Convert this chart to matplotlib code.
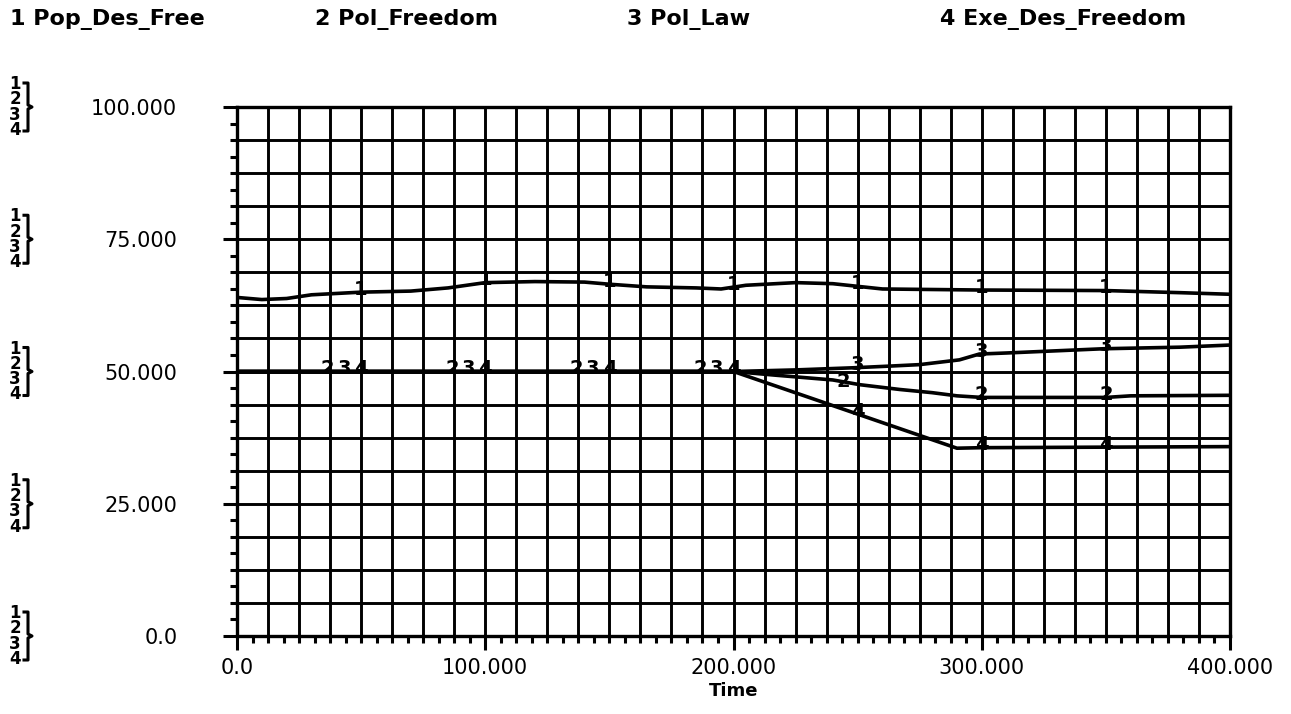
import numpy as np
import matplotlib
matplotlib.use("Agg")
import matplotlib.pyplot as plt
from matplotlib.lines import Line2D
from matplotlib.ticker import MultipleLocator
from matplotlib.transforms import offset_copy

# ---------------- data ----------------
series_names = ["Pop_Des_Free", "Pol_Freedom", "Pol_Law", "Exe_Des_Freedom"]

t1 = [0, 10, 20, 30, 50, 70, 85, 100, 120, 140, 150, 165, 185, 195, 205, 225, 240, 260, 300, 350, 380, 400]
v1 = [64.0, 63.6, 63.8, 64.5, 65.0, 65.2, 65.8, 66.8, 67.0, 66.9, 66.5, 66.0, 65.8, 65.6, 66.3, 66.8, 66.6, 65.6, 65.4, 65.3, 64.9, 64.6]

t2 = [0, 200, 217, 240, 251, 267, 280, 290, 300, 350, 360, 400]
v2 = [50, 50, 49.3, 48.4, 47.5, 46.6, 46.0, 45.4, 45.1, 45.1, 45.4, 45.5]

t3 = [0, 200, 225, 248, 262, 275, 291, 299, 310, 349, 380, 400]
v3 = [50, 50, 50.3, 50.7, 51.0, 51.3, 52.2, 53.3, 53.5, 54.3, 54.6, 55.0]

t4 = [0, 200, 290, 300, 350, 400]
v4 = [50, 50, 35.5, 35.6, 35.7, 35.8]

label_times = [50, 100, 150, 200, 250, 300, 350]

x_ticks = [0, 100, 200, 300, 400]
x_ticklabels = ["0.0", "100.000", "200.000", "300.000", "400.000"]
y_ticks = [0, 25, 50, 75, 100]
y_ticklabels = ["0.0", "25.000", "50.000", "75.000", "100.000"]

# ---------------- figure ----------------
W, H = 1291, 714
fig = plt.figure(figsize=(W / 100, H / 100), dpi=100)
fig.patch.set_facecolor("white")
L, R, T, B = 237, 1230, 107, 636
ax = fig.add_axes([L / W, 1 - B / H, (R - L) / W, (B - T) / H])
ax.set_xlim(0, 400)
ax.set_ylim(0, 100)

# grid 32 x 16
ax.xaxis.set_minor_locator(MultipleLocator(6.25))
ax.yaxis.set_minor_locator(MultipleLocator(3.125))
for gx in np.arange(12.5, 400, 12.5):
    ax.axvline(gx, color="black", lw=2.1, zorder=1)
for gy in np.arange(6.25, 100, 6.25):
    ax.axhline(gy, color="black", lw=2.1, zorder=1)

for sp in ax.spines.values():
    sp.set_linewidth(2.4)
    sp.set_color("black")

ax.set_xticks(x_ticks)
ax.set_xticklabels(x_ticklabels)
ax.set_yticks(y_ticks)
ax.set_yticklabels(y_ticklabels)
ax.tick_params(axis="both", which="major", direction="out", length=10, width=2.2,
               labelsize=15, color="black")
ax.tick_params(axis="both", which="minor", direction="out", length=5, width=2.2, color="black")
ax.tick_params(axis="y", which="major", pad=33)
ax.tick_params(axis="x", which="major", pad=6)
for lab in ax.get_xticklabels() + ax.get_yticklabels():
    lab.set_fontfamily("DejaVu Sans")

ts = [t1, t2, t3, t4]
vs = [v1, v2, v3, v4]
for t, v in zip(ts, vs):
    ax.plot(t, v, color="black", lw=2.6, zorder=3, solid_capstyle="butt")

# series number labels on the curves
for lt in label_times:
    vals = [float(np.interp(lt, t, v)) for t, v in zip(ts, vs)]
    for k in range(4):
        dx = 0
        close = [j for j in range(1, 4) if j != k and abs(vals[j] - vals[k]) < 1.0]
        near_up = [j for j in range(k + 1, 4) if 1.0 <= abs(vals[j] - vals[k]) < 4.0]
        if k > 0 and close:
            dx = {1: -24, 2: -12, 3: 0}[k]
        elif k > 0 and near_up:
            dx = -10
        tr = offset_copy(ax.transData, fig=fig, x=dx, y=2, units="points")
        ax.text(lt, vals[k], str(k + 1), transform=tr, ha="center", va="center",
                fontsize=14, fontweight="bold", family="DejaVu Sans", zorder=4,
                color="black")

ax.set_xlabel("Time", fontsize=13, fontweight="bold", family="DejaVu Sans", labelpad=3)

# header legend
hx = [10, 315, 627, 940]
for i, name in enumerate(series_names):
    fig.text(hx[i] / W, 1 - 19 / H, f"{i + 1} {name}", ha="left", va="center",
             fontsize=16, fontweight="bold", family="DejaVu Sans")

# left stacked 1/2/3/4 brackets at each major y
for yv in y_ticks:
    ypix = B - (B - T) * yv / 100.0
    yf = 1 - ypix / H
    fig.text(15 / W, yf, "1\n2\n3\n4", ha="center", va="center", fontsize=12,
             fontweight="bold", family="DejaVu Sans", linespacing=0.8)
    x0 = 24 / W
    x1 = 28 / W
    x2 = 32 / W
    top = 1 - (ypix - 24) / H
    bot = 1 - (ypix + 24) / H
    fig.add_artist(Line2D([x0, x1, x1, x2, x1, x1, x0], [top, top, yf + 2 / H, yf, yf - 2 / H, bot, bot],
                          transform=fig.transFigure, color="black", lw=2.2))

fig.savefig("out.png", dpi=100, facecolor="white")
